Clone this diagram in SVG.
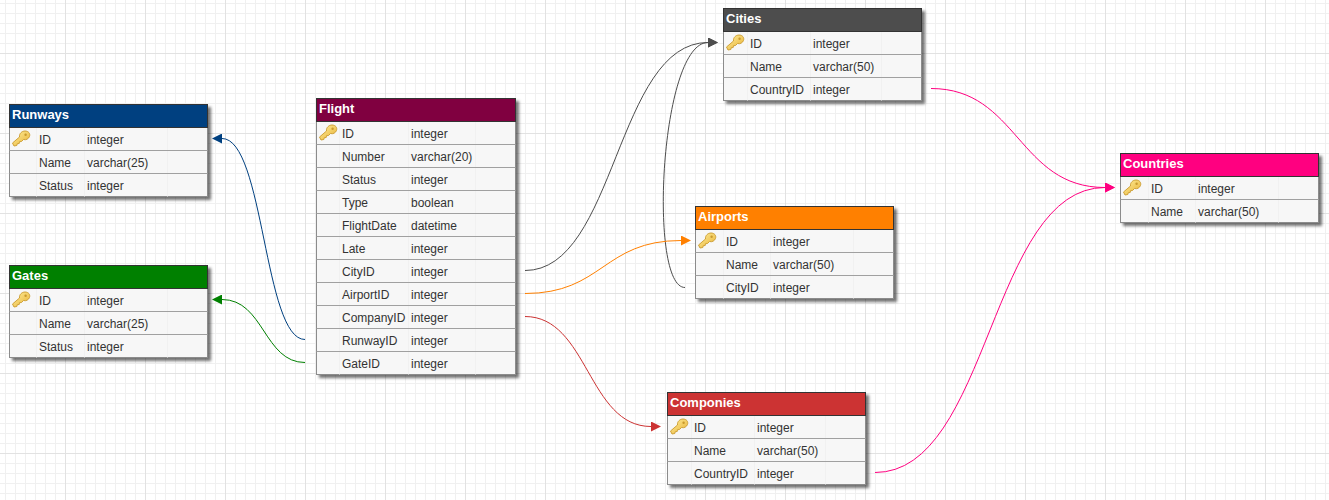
<svg xmlns="http://www.w3.org/2000/svg" xmlns:xlink="http://www.w3.org/1999/xlink" width="1329" height="500" viewBox="0 0 1329 500">
<style>
.frame{fill:#f7f7f7;stroke:#8c8c8c;stroke-width:1}
.sep{stroke:#a0a0a0;stroke-width:1;fill:none}
.col{stroke:#f1f1f1;stroke-width:1;fill:none}
.hd{font:bold 13px "Liberation Sans",Arial,sans-serif;fill:#fff}
.c{font:12px "Liberation Sans",Arial,sans-serif;fill:#333}
.hb{stroke:#333;stroke-width:1}
.link{fill:none;stroke-width:1}
</style>
<defs>
<pattern id="grid" x="65" y="53" width="80" height="80" patternUnits="userSpaceOnUse">
<path d="M10.5 0V80M20.5 0V80M30.5 0V80M40.5 0V80M50.5 0V80M60.5 0V80M70.5 0V80M0 10.5H80M0 20.5H80M0 30.5H80M0 40.5H80M0 50.5H80M0 60.5H80M0 70.5H80" stroke="#f0f0f0" fill="none"/>
<path d="M.5 0V80M0 .5H80" stroke="#e2e2e2" fill="none"/>
</pattern>
<linearGradient id="kg" x1="0" y1="0" x2="1" y2="1"><stop offset="0" stop-color="#fff0a0"/><stop offset="1" stop-color="#e8b030"/></linearGradient>
<filter id="sh" x="-5%" y="-5%" width="112%" height="115%"><feDropShadow dx="3" dy="3" stdDeviation="1.5" flood-color="#000" flood-opacity=".55"/></filter>
<g id="key"><path d="M3 17.5 L1.5 14.5 L8.5 8.5 C8 5 11 2.5 14 2.5 C17.5 2.5 19.5 5 18.5 8 C17.5 10.5 15 11.8 12.5 11 L10.5 13 L8.5 13.2 L8.2 15 L6.3 15.2 L5.8 17 Z" fill="url(#kg)" stroke="#c99a2e" stroke-width=".9" stroke-linejoin="round"/><circle cx="14.6" cy="6.2" r="1.2" fill="#c99a2e"/></g>
<marker id="m-blue" markerUnits="userSpaceOnUse" markerWidth="10" markerHeight="10" refX="0" refY="5" orient="auto"><path d="M0 0L10 5L0 10Z" fill="#004080"/></marker>
<marker id="m-green" markerUnits="userSpaceOnUse" markerWidth="10" markerHeight="10" refX="0" refY="5" orient="auto"><path d="M0 0L10 5L0 10Z" fill="#008000"/></marker>
<marker id="m-gray" markerUnits="userSpaceOnUse" markerWidth="10" markerHeight="10" refX="0" refY="5" orient="auto"><path d="M0 0L10 5L0 10Z" fill="#4d4d4d"/></marker>
<marker id="m-orange" markerUnits="userSpaceOnUse" markerWidth="10" markerHeight="10" refX="0" refY="5" orient="auto"><path d="M0 0L10 5L0 10Z" fill="#ff8000"/></marker>
<marker id="m-red" markerUnits="userSpaceOnUse" markerWidth="10" markerHeight="10" refX="0" refY="5" orient="auto"><path d="M0 0L10 5L0 10Z" fill="#cc3333"/></marker>
<marker id="m-pink" markerUnits="userSpaceOnUse" markerWidth="10" markerHeight="10" refX="0" refY="5" orient="auto"><path d="M0 0L10 5L0 10Z" fill="#ff0080"/></marker>
</defs>
<rect width="1329" height="500" fill="#fff"/>
<rect width="1329" height="500" fill="url(#grid)"/>

<g id="connectors">
<path class="link" stroke="#004080" marker-end="url(#m-blue)" d="M305 339.5C264 339.5 264 138.5 222 138.5"/>
<path class="link" stroke="#008000" marker-end="url(#m-green)" d="M305 362.5C264 362.5 264 299.5 222 299.5"/>
<path class="link" stroke="#4d4d4d" marker-end="url(#m-gray)" d="M525 270.5C616 270.5 616 42.5 708 42.5"/>
<path class="link" stroke="#4d4d4d" marker-end="url(#m-gray)" d="M685 287.5C648 287.5 660 42.5 708 42.5"/>
<path class="link" stroke="#ff8000" marker-end="url(#m-orange)" d="M525 293.5C603 293.5 603 240.5 681 240.5"/>
<path class="link" stroke="#cc3333" marker-end="url(#m-red)" d="M525 316.5C588 316.5 588 426.5 651 426.5"/>
<path class="link" stroke="#ff0080" marker-end="url(#m-pink)" d="M931 88.5C1018 88.5 1018 187.5 1105 187.5"/>
<path class="link" stroke="#ff0080" marker-end="url(#m-pink)" d="M875 472.5C990 472.5 990 187.5 1105 187.5"/>
</g>

<g id="runways" transform="translate(9.5 104.5)">
<rect class="frame" width="198" height="92" filter="url(#sh)"/>
<path class="col" d="M27 23V92M75 23V92M158 23V92"/>
<rect class="hb" width="198" height="23" fill="#004080"/>
<path class="sep" d="M0 46H198M0 69H198"/>
<text class="hd" x="2.5" y="14">Runways</text>
<use href="#key" xlink:href="#key" x="1.5" y="24"/>
<text class="c" x="29.5" y="39.5">ID</text><text class="c" x="77.5" y="39.5">integer</text>
<text class="c" x="29.5" y="62.5">Name</text><text class="c" x="77.5" y="62.5">varchar(25)</text>
<text class="c" x="29.5" y="85.5">Status</text><text class="c" x="77.5" y="85.5">integer</text>
</g>

<g id="gates" transform="translate(9.5 265.5)">
<rect class="frame" width="198" height="92" filter="url(#sh)"/>
<path class="col" d="M27 23V92M75 23V92M158 23V92"/>
<rect class="hb" width="198" height="23" fill="#008000"/>
<path class="sep" d="M0 46H198M0 69H198"/>
<text class="hd" x="2.5" y="14">Gates</text>
<use href="#key" xlink:href="#key" x="1.5" y="24"/>
<text class="c" x="29.5" y="39.5">ID</text><text class="c" x="77.5" y="39.5">integer</text>
<text class="c" x="29.5" y="62.5">Name</text><text class="c" x="77.5" y="62.5">varchar(25)</text>
<text class="c" x="29.5" y="85.5">Status</text><text class="c" x="77.5" y="85.5">integer</text>
</g>

<g id="flight" transform="translate(316.5 98.5)">
<rect class="frame" width="199" height="276" filter="url(#sh)"/>
<path class="col" d="M23 23V276M92 23V276M159 23V276"/>
<rect class="hb" width="199" height="23" fill="#800040"/>
<path class="sep" d="M0 46H199M0 69H199M0 92H199M0 115H199M0 138H199M0 161H199M0 184H199M0 207H199M0 230H199M0 253H199"/>
<text class="hd" x="2.5" y="14">Flight</text>
<use href="#key" xlink:href="#key" x="1.5" y="24"/>
<text class="c" x="25.5" y="39.5">ID</text><text class="c" x="94.5" y="39.5">integer</text>
<text class="c" x="25.5" y="62.5">Number</text><text class="c" x="94.5" y="62.5">varchar(20)</text>
<text class="c" x="25.5" y="85.5">Status</text><text class="c" x="94.5" y="85.5">integer</text>
<text class="c" x="25.5" y="108.5">Type</text><text class="c" x="94.5" y="108.5">boolean</text>
<text class="c" x="25.5" y="131.5">FlightDate</text><text class="c" x="94.5" y="131.5">datetime</text>
<text class="c" x="25.5" y="154.5">Late</text><text class="c" x="94.5" y="154.5">integer</text>
<text class="c" x="25.5" y="177.5">CityID</text><text class="c" x="94.5" y="177.5">integer</text>
<text class="c" x="25.5" y="200.5">AirportID</text><text class="c" x="94.5" y="200.5">integer</text>
<text class="c" x="25.5" y="223.5">CompanyID</text><text class="c" x="94.5" y="223.5">integer</text>
<text class="c" x="25.5" y="246.5">RunwayID</text><text class="c" x="94.5" y="246.5">integer</text>
<text class="c" x="25.5" y="269.5">GateID</text><text class="c" x="94.5" y="269.5">integer</text>
</g>

<g id="cities" transform="translate(723.5 8.5)">
<rect class="frame" width="198" height="92" filter="url(#sh)"/>
<path class="col" d="M24 23V92M87 23V92M158 23V92"/>
<rect class="hb" width="198" height="23" fill="#4d4d4d"/>
<path class="sep" d="M0 46H198M0 69H198"/>
<text class="hd" x="2.5" y="14">Cities</text>
<use href="#key" xlink:href="#key" x="1.5" y="24"/>
<text class="c" x="26.5" y="39.5">ID</text><text class="c" x="89.5" y="39.5">integer</text>
<text class="c" x="26.5" y="62.5">Name</text><text class="c" x="89.5" y="62.5">varchar(50)</text>
<text class="c" x="26.5" y="85.5">CountryID</text><text class="c" x="89.5" y="85.5">integer</text>
</g>

<g id="airports" transform="translate(695.5 206.5)">
<rect class="frame" width="198" height="92" filter="url(#sh)"/>
<path class="col" d="M28 23V92M75 23V92M158 23V92"/>
<rect class="hb" width="198" height="23" fill="#ff8000"/>
<path class="sep" d="M0 46H198M0 69H198"/>
<text class="hd" x="2.5" y="14">Airports</text>
<use href="#key" xlink:href="#key" x="1.5" y="24"/>
<text class="c" x="30.5" y="39.5">ID</text><text class="c" x="77.5" y="39.5">integer</text>
<text class="c" x="30.5" y="62.5">Name</text><text class="c" x="77.5" y="62.5">varchar(50)</text>
<text class="c" x="30.5" y="85.5">CityID</text><text class="c" x="77.5" y="85.5">integer</text>
</g>

<g id="companies" transform="translate(667.5 392.5)">
<rect class="frame" width="198" height="92" filter="url(#sh)"/>
<path class="col" d="M24 23V92M87 23V92M158 23V92"/>
<rect class="hb" width="198" height="23" fill="#cc3333"/>
<path class="sep" d="M0 46H198M0 69H198"/>
<text class="hd" x="2.5" y="14">Componies</text>
<use href="#key" xlink:href="#key" x="1.5" y="24"/>
<text class="c" x="26.5" y="39.5">ID</text><text class="c" x="89.5" y="39.5">integer</text>
<text class="c" x="26.5" y="62.5">Name</text><text class="c" x="89.5" y="62.5">varchar(50)</text>
<text class="c" x="26.5" y="85.5">CountryID</text><text class="c" x="89.5" y="85.5">integer</text>
</g>

<g id="countries" transform="translate(1120.5 153.5)">
<rect class="frame" width="198" height="69" filter="url(#sh)"/>
<path class="col" d="M28 23V69M75 23V69M158 23V69"/>
<rect class="hb" width="198" height="23" fill="#ff0080"/>
<path class="sep" d="M0 46H198"/>
<text class="hd" x="2.5" y="14">Countries</text>
<use href="#key" xlink:href="#key" x="1.5" y="24"/>
<text class="c" x="30.5" y="39.5">ID</text><text class="c" x="77.5" y="39.5">integer</text>
<text class="c" x="30.5" y="62.5">Name</text><text class="c" x="77.5" y="62.5">varchar(50)</text>
</g>
</svg>
